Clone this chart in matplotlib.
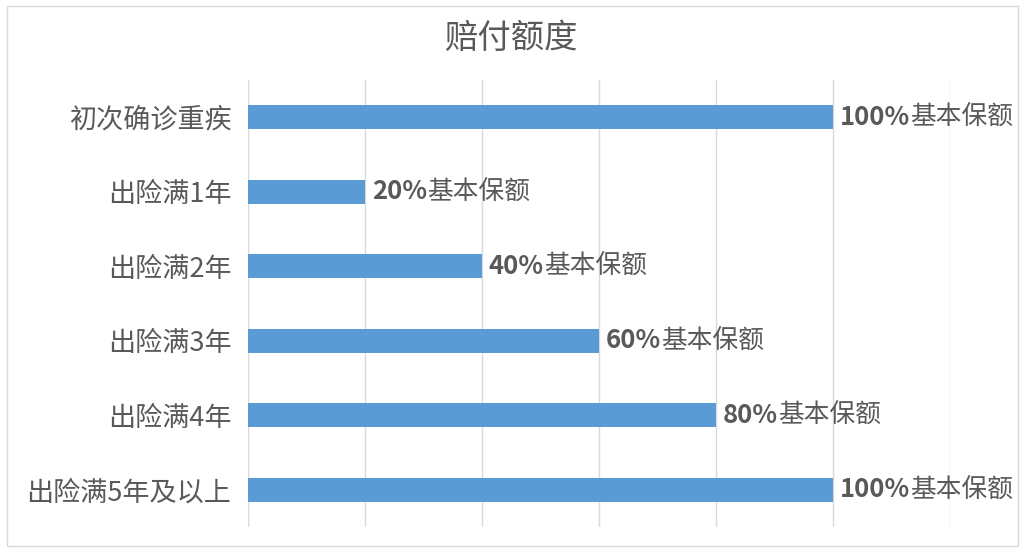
import matplotlib
matplotlib.use("Agg")
import matplotlib.pyplot as plt
from matplotlib.offsetbox import AnnotationBbox, HPacker, TextArea
from matplotlib.patches import Rectangle

plt.rcParams["font.family"] = ["Noto Sans CJK SC", "DejaVu Sans"]

title = "赔付额度"
categories = ["初次确诊重疾", "出险满1年", "出险满2年", "出险满3年", "出险满4年", "出险满5年及以上"]
values = [100, 20, 40, 60, 80, 100]
suffix = "基本保额"

text_color = "#595959"
bar_color = "#5B9BD5"

fig = plt.figure(figsize=(10.24, 5.52), dpi=100)
ax = fig.add_axes([0.2422, 0.0453, 0.6855, 0.8098])

ypos = list(range(len(categories)))
ax.barh(ypos, values, height=0.32, color=bar_color, zorder=2)
ax.set_ylim(len(categories) - 0.5, -0.5)
ax.set_xlim(0, 120)
ax.set_xticks([0, 20, 40, 60, 80, 100, 120])
ax.set_xticklabels([])
ax.tick_params(axis="x", length=0)
ax.tick_params(axis="y", length=0, pad=12)
ax.set_yticks(ypos)
ax.set_yticklabels(categories, fontsize=19.5, color=text_color)
ax.grid(axis="x", color="#D9D9D9", linewidth=1, zorder=0)
for s in ax.spines.values():
    s.set_visible(False)

# value labels: bold number + regular suffix
for y, v in zip(ypos, values):
    box = HPacker(children=[
        TextArea(f"{v}%", textprops=dict(fontsize=18.5, fontweight="bold", color=text_color)),
        TextArea(suffix, textprops=dict(fontsize=18.5, color=text_color)),
    ], sep=0, align="baseline")
    ab = AnnotationBbox(box, (v, y), xybox=(5, 0), xycoords="data",
                        boxcoords="offset points", box_alignment=(0, 0.5),
                        frameon=False, pad=0)
    ax.add_artist(ab)

fig.text(0.5, 0.93, title, ha="center", va="center", fontsize=24, color=text_color)

# light border around the chart area
fig.patches.append(Rectangle((7 / 1024, 6 / 552), 1011 / 1024, 540 / 552,
                             transform=fig.transFigure, fill=False,
                             edgecolor="#D9D9D9", linewidth=1))

fig.savefig("out.png", dpi=100)
